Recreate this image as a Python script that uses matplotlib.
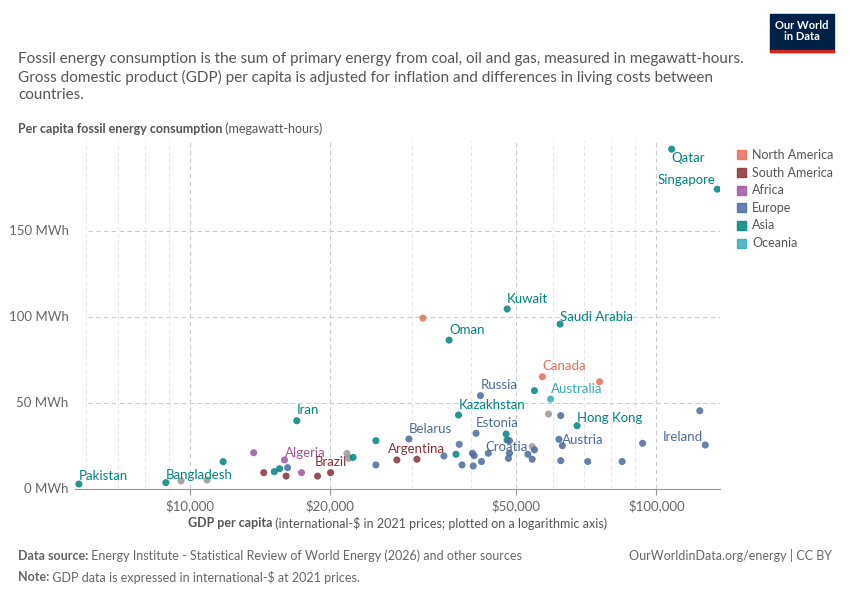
import matplotlib
matplotlib.use("Agg")
import matplotlib.pyplot as plt
from matplotlib.ticker import FixedLocator, NullFormatter

plt.rcParams['font.family'] = ['Lato', 'DejaVu Sans']

colors = {"North America": "#E56E5A", "South America": "#883039", "Africa": "#A2559C",
          "Europe": "#4C6A9C", "Asia": "#00847E", "Oceania": "#38AABA", "Other": "#999999"}
legend_order = ["North America", "South America", "Africa", "Europe", "Asia", "Oceania"]

gdp = [5780, 8880, 9570, 10880, 11780, 13700, 14400, 15170, 15570, 16200,
       16080, 15950, 17350, 18780, 20030, 21720, 21920, 22380, 25050, 25050,
       27780, 30680, 29480, 35050, 37200, 37800, 37670, 38330, 40350, 40700,
       40500, 42200, 43650, 41070, 41980, 47650, 47880, 48450, 48450, 48200,
       53050, 54200, 54800, 54200, 54800, 57000, 58750, 59350, 62400, 61850,
       62900, 62400, 67650, 71300, 75600, 84500, 93500, 124000, 127400, 16950,
       31600, 35960, 47900, 62200, 107900, 135200]
energy = [2.9, 3.7, 4.7, 5.2, 15.9, 21.1, 9.5, 10.1, 11.8, 12.4,
          7.5, 16.9, 9.5, 7.5, 9.5, 20.7, 17.8, 18.4, 28.1, 14.0,
          16.9, 17.3, 29.1, 19.2, 20.2, 26.0, 43.0, 14.0, 20.8, 19.4,
          13.4, 16.0, 20.8, 32.4, 54.3, 32.0, 28.5, 28.1, 20.8, 17.8,
          20.2, 24.7, 22.8, 17.3, 57.2, 65.3, 43.6, 52.3, 42.7, 28.9,
          25.2, 16.5, 36.8, 16.0, 62.4, 16.0, 26.6, 45.5, 25.6, 39.7,
          99.4, 86.6, 104.7, 95.9, 197.7, 174.4]
region = ["Asia", "Asia", "Other", "Other", "Asia", "Africa", "South America", "Asia", "Asia", "Europe",
          "South America", "Africa", "Africa", "South America", "South America", "Other", "Other", "Asia", "Asia", "Europe",
          "South America", "South America", "Europe", "Europe", "Asia", "Europe", "Asia", "Europe", "Europe", "Europe",
          "Europe", "Europe", "Europe", "Europe", "Europe", "Asia", "Asia", "Europe", "Europe", "Europe",
          "Europe", "Other", "Europe", "Europe", "Asia", "North America", "Other", "Oceania", "Europe", "Europe",
          "Europe", "Europe", "Asia", "Europe", "North America", "Europe", "Europe", "Europe", "Europe", "Asia",
          "North America", "Asia", "Asia", "Asia", "Asia", "Asia"]

labels = [("Pakistan", 5780, 2.9, "Asia", "left"), ("Bangladesh", 8880, 3.7, "Asia", "left"),
          ("Algeria", 15950, 16.9, "Africa", "left"), ("Brazil", 20030, 9.5, "South America", "center"),
          ("Argentina", 30680, 17.3, "South America", "center"), ("Belarus", 29480, 29.1, "Europe", "left"),
          ("Iran", 16950, 39.7, "Asia", "left"), ("Kazakhstan", 37670, 43.0, "Asia", "left"),
          ("Russia", 41980, 54.3, "Europe", "left"), ("Estonia", 41070, 32.4, "Europe", "left"),
          ("Croatia", 53050, 20.2, "Europe", "right"), ("Austria", 62900, 25.2, "Europe", "left"),
          ("Hong Kong", 67650, 36.8, "Asia", "left"), ("Australia", 59350, 52.3, "Oceania", "left"),
          ("Canada", 57000, 65.3, "North America", "left"), ("Ireland", 127400, 25.6, "Europe", "right"),
          ("Oman", 35960, 86.6, "Asia", "left"), ("Kuwait", 47900, 104.7, "Asia", "left"),
          ("Saudi Arabia", 62200, 95.9, "Asia", "left"), ("Qatar", 107900, 197.7, "Asia", "left"),
          ("Singapore", 135200, 174.4, "Asia", "right")]

fig = plt.figure(figsize=(8.5, 6), dpi=100)
ax = fig.add_axes([75/850, 111/600, 645/850, 349/600])
ax.set_xscale("log")
ax.set_xlim(5670, 137000)
ax.set_ylim(0, 203)

ax.scatter(gdp, energy, c=[colors[r] for r in region], s=26, alpha=0.85, edgecolors="none", zorder=3)

offsets = {"Singapore": (0.99, 2, "bottom"), "Saudi Arabia": (1.0, 0.5, "bottom"),
           "Croatia": (1.0, 1, "bottom"), "Austria": (1.0, 0, "bottom"), "Ireland": (0.99, 1, "bottom"),
           "Algeria": (1.0, 0.5, "bottom"), "Bangladesh": (1.0, 1, "bottom"), "Pakistan": (1.0, 1, "bottom"),
           "Hong Kong": (1.0, 1, "bottom")}
for name, x, y, r, ha in labels:
    fx, dy, va = offsets.get(name, (1.0, 2.5, "bottom"))
    if name == "Qatar":
        va = "top"; dy = -1.5
    ax.text(x * fx, y + dy, name, color=colors[r], fontsize=9.5, ha=ha, va=va, zorder=4)

for s in ["top", "right", "left"]:
    ax.spines[s].set_visible(False)
ax.spines["bottom"].set_color("#999999")

ax.set_yticks([])
for v in [50, 100, 150]:
    ax.axhline(v, xmin=13/645, color="#cccccc", ls=(0, (4, 3)), lw=0.8, zorder=1)
for v in [0, 50, 100, 150]:
    ax.text(-0.01, v, f"{v} MWh", transform=ax.get_yaxis_transform(), ha="right", va="center",
            fontsize=9.5, color="#666666")

major = [10000, 20000, 50000, 100000]
minor = [6000, 7000, 8000, 9000, 30000, 40000, 60000, 70000, 80000, 90000]
for v in major:
    ax.axvline(v, color="#cccccc", ls=(0, (4, 3)), lw=0.8, zorder=1)
for v in minor:
    ax.axvline(v, color="#e6e6e6", ls=(0, (4, 3)), lw=0.7, zorder=1)
ax.xaxis.set_major_locator(FixedLocator(major))
ax.set_xticklabels(["$10,000", "$20,000", "$50,000", "$100,000"], fontsize=9.5, color="#666666")
ax.xaxis.set_minor_formatter(NullFormatter())
ax.xaxis.set_minor_locator(FixedLocator([]))
ax.tick_params(axis="x", length=4, color="#999999")

renderer = fig.canvas.get_renderer()

def two_part(x, y, bold, rest, color, ha="left", size=9):
    t1 = fig.text(x, y, bold, fontsize=size, color=color, va="center", weight="bold")
    t2 = fig.text(x, y, rest, fontsize=size, color=color, va="center")
    w1 = t1.get_window_extent(renderer).width / fig.bbox.width
    w2 = t2.get_window_extent(renderer).width / fig.bbox.width
    x0 = x - (w1 + w2) / 2 if ha == "center" else x
    t1.set_x(x0)
    t2.set_x(x0 + w1)

fig.text(18/850, 1 - 52/600, "Fossil energy consumption is the sum of primary energy from coal, oil and gas, measured in megawatt-hours.\n"
         "Gross domestic product (GDP) per capita is adjusted for inflation and differences in living costs between\ncountries.",
         fontsize=11, color="#555555", va="top", linespacing=1.3)
two_part(18/850, 1 - 129/600, "Per capita fossil energy consumption", " (megawatt-hours)", "#555555")
two_part(0.5 * (75 + 720) / 850, 1 - 523/600, "GDP per capita",
         " (international-$ in 2021 prices; plotted on a logarithmic axis)", "#555555", ha="center")
two_part(18/850, 1 - 556/600, "Data source:",
         " Energy Institute - Statistical Review of World Energy (2026) and other sources", "#666666")
two_part(18/850, 1 - 577/600, "Note:", " GDP data is expressed in international-$ at 2021 prices.", "#666666")
fig.text(832/850, 1 - 556/600, "OurWorldinData.org/energy | CC BY", fontsize=9, color="#666666", ha="right", va="center")

for i, r in enumerate(legend_order):
    yy = 1 - (155 + i * 17.6) / 600
    fig.patches.append(plt.Rectangle((737/850, yy - 4.5/600), 9/850, 9/600, transform=fig.transFigure,
                                     color=colors[r], alpha=0.85))
    fig.text(752/850, yy, r, fontsize=9, color="#555555", va="center")

fig.patches.append(plt.Rectangle((770/850, 1 - 52/600), 64/850, 38/600, transform=fig.transFigure, color="#002147"))
fig.patches.append(plt.Rectangle((770/850, 1 - 52/600), 64/850, 2.5/600, transform=fig.transFigure, color="#CE261E"))
fig.text(802/850, 1 - 31/600, "Our World\nin Data", fontsize=8, color="white", ha="center", va="center",
         weight="bold", linespacing=1.1)

fig.savefig("out.png", dpi=100)
